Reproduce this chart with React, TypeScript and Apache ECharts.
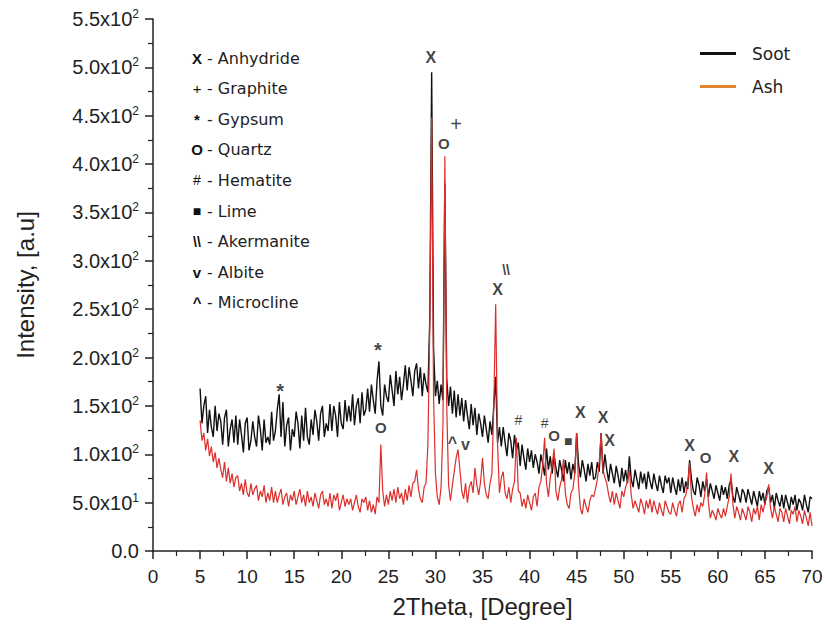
import React, { useEffect, useRef } from 'react';
import * as echarts from 'echarts';

const FONT = '"Liberation Sans", Arial, Helvetica, sans-serif';
const KEY_FONT = '"DejaVu Sans", "Liberation Sans", sans-serif';

// 2Theta grid of the scan
const twoThetaStart = 5;
const twoThetaStep = 0.2;

// Soot intensity, one value per 0.2 degree from 5.0 to 70.0
const sootIntensity = [
  168, 132, 150, 160, 122, 146, 128, 118, 150, 124,
  142, 134, 110, 138, 146, 108, 126, 136, 112, 140,
  110, 136, 120, 102, 132, 138, 104, 114, 134, 118,
  108, 140, 126, 104, 136, 112, 118, 110, 144, 114,
  124, 146, 162, 118, 154, 108, 130, 138, 104, 126,
  118, 144, 132, 106, 140, 114, 148, 118, 110, 136,
  120, 146, 134, 114, 142, 150, 118, 132, 124, 152,
  124, 150, 140, 118, 154, 132, 126, 156, 134, 150,
  134, 162, 130, 150, 158, 132, 164, 140, 146, 168,
  144, 172, 156, 142, 176, 196, 150, 140, 172, 160,
  154, 182, 166, 150, 186, 162, 180, 156, 172, 192,
  166, 190, 176, 160, 186, 194, 168, 190, 160, 184,
  172, 164, 240, 495, 210, 160, 176, 152, 172, 156,
  380, 178, 150, 170, 142, 166, 138, 162, 140, 158,
  134, 156, 140, 126, 152, 130, 148, 120, 142, 132,
  118, 140, 126, 112, 134, 120, 150, 180, 112, 128,
  108, 128, 112, 98, 122, 114, 96, 120, 104, 112,
  88, 110, 96, 84, 106, 92, 104, 86, 100, 92,
  80, 100, 90, 78, 106, 84, 98, 80, 100, 86,
  76, 94, 84, 72, 94, 80, 92, 74, 90, 80,
  122, 90, 76, 94, 84, 72, 90, 78, 92, 74,
  76, 92, 82, 122, 80, 100, 84, 72, 90, 80,
  70, 88, 78, 66, 86, 72, 84, 70, 98, 74,
  66, 84, 74, 64, 82, 70, 80, 64, 82, 72,
  64, 80, 70, 62, 78, 68, 60, 78, 70, 76,
  60, 76, 66, 58, 74, 62, 76, 60, 72, 64,
  94, 74, 62, 58, 76, 68, 56, 72, 62, 74,
  56, 70, 62, 54, 68, 60, 52, 68, 58, 66,
  54, 68, 74, 56, 50, 66, 58, 50, 64, 60,
  50, 64, 56, 48, 62, 54, 46, 62, 52, 60,
  48, 62, 66, 50, 58, 44, 60, 52, 46, 58,
  44, 58, 50, 42, 56, 48, 58, 42, 54, 50,
  42, 58, 48, 40, 56, 54,
];

// Ash intensity, same grid
const ashIntensity = [
  135, 114, 122, 104, 116, 98, 108, 92, 102, 86,
  96, 84, 76, 92, 72, 86, 70, 80, 66, 76,
  78, 62, 70, 58, 74, 60, 56, 70, 58, 64,
  68, 52, 62, 56, 68, 50, 60, 52, 66, 50,
  62, 50, 58, 64, 48, 56, 60, 46, 58, 52,
  62, 48, 56, 64, 50, 58, 46, 62, 50, 56,
  46, 60, 52, 44, 58, 62, 48, 54, 46, 60,
  44, 58, 52, 60, 42, 50, 58, 46, 54, 48,
  54, 42, 50, 58, 46, 40, 54, 50, 56, 42,
  52, 40, 48, 38, 56, 50, 110, 62, 46, 58,
  48, 62, 52, 64, 50, 66, 54, 60, 48, 64,
  52, 68, 56, 70, 72, 84, 64, 54, 50, 66,
  70, 110, 230, 448, 160, 80, 56, 48, 66, 130,
  408, 150, 68, 52, 68, 82, 96, 105, 84, 62,
  54, 70, 50, 66, 72, 60, 86, 68, 58, 72,
  96, 70, 58, 54, 70, 80, 150, 255, 110, 60,
  76, 82, 60, 54, 66, 50, 64, 72, 117, 62,
  60, 46, 54, 44, 58, 50, 42, 56, 60, 46,
  66, 72, 90, 117, 70, 56, 76, 88, 106, 62,
  52, 66, 74, 95, 60, 48, 44, 60, 64, 80,
  122, 68, 44, 38, 54, 46, 40, 52, 58, 56,
  64, 74, 92, 121, 84, 76, 70, 58, 50, 62,
  48, 60, 52, 44, 62, 56, 66, 72, 84, 58,
  44, 52, 46, 40, 54, 48, 38, 52, 44, 54,
  40, 52, 44, 38, 50, 42, 36, 52, 46, 40,
  38, 50, 42, 36, 48, 52, 40, 54, 58, 70,
  91, 56, 44, 36, 48, 40, 50, 46, 58, 81,
  50, 34, 42, 38, 32, 44, 38, 34, 44, 36,
  46, 56, 80, 48, 34, 46, 40, 32, 44, 38,
  32, 46, 40, 30, 44, 38, 46, 32, 48, 40,
  50, 56, 69, 44, 34, 46, 38, 30, 44, 40,
  30, 44, 36, 28, 42, 38, 46, 30, 42, 36,
  28, 42, 34, 26, 40, 26,
];

// Y tick labels: mantissa and power of ten
const yTickMantissa = ['0.0', '5.0', '1.0', '1.5', '2.0', '2.5', '3.0', '3.5', '4.0', '4.5', '5.0', '5.5'];
const yTickExponent = ['', '1', '2', '2', '2', '2', '2', '2', '2', '2', '2', '2'];

// Phase markers placed above peaks
const peakSymbols = ['*', '*', 'O', 'X', 'O', '+', 'X', '\\\\', '^', 'v', '#', '#', 'O', '■', 'X', 'X', 'X', 'X', 'O', 'X', 'X'];
const peakTwoTheta = [13.5, 23.9, 24.2, 29.5, 30.9, 32.2, 36.6, 37.5, 31.8, 33.2, 38.8, 41.6, 42.6, 44.1, 45.4, 47.8, 48.5, 57.0, 58.7, 61.7, 65.4];
const peakIntensity = [165, 208, 128, 510, 421, 441, 270, 291, 112, 110, 135, 132, 119, 114, 143, 138, 114, 109, 97, 98, 85];

// Mineral key
const mineralSymbols = ['X', '+', '*', 'O', '#', '■', '\\\\', 'v', '^'];
const mineralNames = ['Anhydride', 'Graphite', 'Gypsum', 'Quartz', 'Hematite', 'Lime', 'Akermanite', 'Albite', 'Microcline'];

const seriesNames = ['Soot', 'Ash'];

const symbolStyle: Record<string, any> = {
  'X': { fontSize: 16, fontWeight: 'bold' },
  'O': { fontSize: 15, fontWeight: 'bold' },
  '+': { fontSize: 20, fontWeight: 'normal' },
  '*': { fontSize: 20, fontWeight: 'bold' },
  '#': { fontSize: 14, fontWeight: 'normal' },
  '■': { fontSize: 14, fontWeight: 'normal' },
  '\\\\': { fontSize: 14, fontWeight: 'bold' },
  'v': { fontSize: 16, fontWeight: 'bold' },
  '^': { fontSize: 16, fontWeight: 'bold' },
};

export default function App() {
  const ref = useRef<HTMLDivElement>(null);

  useEffect(() => {
    if (!ref.current) return;
    const chart = echarts.init(ref.current, undefined, { renderer: 'svg' });

    const toPairs = (arr: number[]) =>
      arr.map((v, i) => [Math.round((twoThetaStart + i * twoThetaStep) * 10) / 10, v]);

    const markerData = peakSymbols.map((s, i) => ({
      value: [peakTwoTheta[i], peakIntensity[i]],
      label: { formatter: s, ...symbolStyle[s] },
    }));

    const keyGraphics: any[] = [];
    mineralSymbols.forEach((s, i) => {
      const y = 58 + i * 30.6;
      keyGraphics.push({
        type: 'text',
        x: 197,
        y,
        silent: true,
        style: {
          text: s,
          fill: '#111',
          fontFamily: FONT,
          fontSize: Math.min(symbolStyle[s].fontSize, 15),
          fontWeight: symbolStyle[s].fontWeight,
          textAlign: 'center',
          textVerticalAlign: 'middle',
          align: 'center',
          verticalAlign: 'middle',
        },
      });
      keyGraphics.push({
        type: 'text',
        x: 207,
        y,
        silent: true,
        style: {
          text: '- ' + mineralNames[i],
          fill: '#222',
          fontFamily: KEY_FONT,
          fontSize: 16,
          textAlign: 'left',
          textVerticalAlign: 'middle',
          align: 'left',
          verticalAlign: 'middle',
        },
      });
    });

    const option: any = {
      animation: false,
      backgroundColor: '#ffffff',
      textStyle: { fontFamily: FONT },
      grid: { left: 153, right: 14, top: 19, bottom: 82, containLabel: false },
      legend: {
        orient: 'vertical',
        left: 695,
        top: 40,
        itemWidth: 36,
        itemHeight: 3,
        itemGap: 16,
        icon: 'rect',
        selectedMode: false,
        textStyle: { fontSize: 17, color: '#222', fontFamily: KEY_FONT, padding: [0, 0, 0, 11] },
        data: [
          { name: seriesNames[0], itemStyle: { color: '#111111' } },
          { name: seriesNames[1], itemStyle: { color: '#e0852e' } },
        ],
      },
      xAxis: {
        type: 'value',
        min: 0,
        max: 70,
        interval: 5,
        name: '2Theta, [Degree]',
        nameLocation: 'middle',
        nameGap: 43,
        nameTextStyle: { fontSize: 24, color: '#222', fontFamily: FONT },
        axisLine: { show: true, onZero: false, lineStyle: { color: '#222', width: 1.5 } },
        axisTick: { show: true, inside: false, length: 8, lineStyle: { color: '#222', width: 1.5 } },
        minorTick: { show: true, splitNumber: 2, length: 5, lineStyle: { color: '#222', width: 1.2 } },
        axisLabel: { fontSize: 19, color: '#222', margin: 16, fontFamily: FONT },
        splitLine: { show: false },
      },
      yAxis: {
        type: 'value',
        min: 0,
        max: 550,
        interval: 50,
        name: 'Intensity, [a.u]',
        nameLocation: 'middle',
        nameGap: 116,
        nameRotate: 90,
        nameTextStyle: { fontSize: 24, color: '#222', fontFamily: FONT },
        axisLine: { show: true, lineStyle: { color: '#222', width: 1.5 } },
        axisTick: { show: true, inside: false, length: 8, lineStyle: { color: '#222', width: 1.5 } },
        minorTick: { show: true, splitNumber: 2, length: 5, lineStyle: { color: '#222', width: 1.2 } },
        splitLine: { show: false },
        axisLabel: {
          margin: 14,
          formatter: (v: number) => {
            const k = Math.round(v / 50);
            const m = yTickMantissa[k];
            const e = yTickExponent[k];
            return e ? `{m|${m}x10}{e|${e}}` : `{m|${m}}`;
          },
          rich: {
            m: { fontSize: 20, color: '#222', fontFamily: FONT, lineHeight: 22 },
            e: { fontSize: 12, color: '#222', fontFamily: FONT, lineHeight: 12, verticalAlign: 'top' },
          },
        },
      },
      series: [
        {
          name: seriesNames[0],
          type: 'line',
          data: toPairs(sootIntensity),
          showSymbol: false,
          symbol: 'none',
          lineStyle: { color: '#111111', width: 1.4 },
          itemStyle: { color: '#111111' },
          z: 2,
        },
        {
          name: seriesNames[1],
          type: 'line',
          data: toPairs(ashIntensity),
          showSymbol: false,
          symbol: 'none',
          lineStyle: { color: '#dc2e2b', width: 1.2 },
          itemStyle: { color: '#dc2e2b' },
          z: 3,
        },
        {
          name: 'markers',
          type: 'scatter',
          data: markerData,
          symbolSize: 0.1,
          itemStyle: { color: 'rgba(0,0,0,0)' },
          silent: true,
          z: 5,
          label: { show: true, position: 'inside', color: '#111', fontFamily: FONT },
        },
      ],
      graphic: keyGraphics,
    };

    chart.setOption(option);
    return () => chart.dispose();
  }, []);

  return (
    <div
      ref={ref}
      style={{ position: 'fixed', left: 0, top: 0, width: 826, height: 633, background: '#fff' }}
    />
  );
}
